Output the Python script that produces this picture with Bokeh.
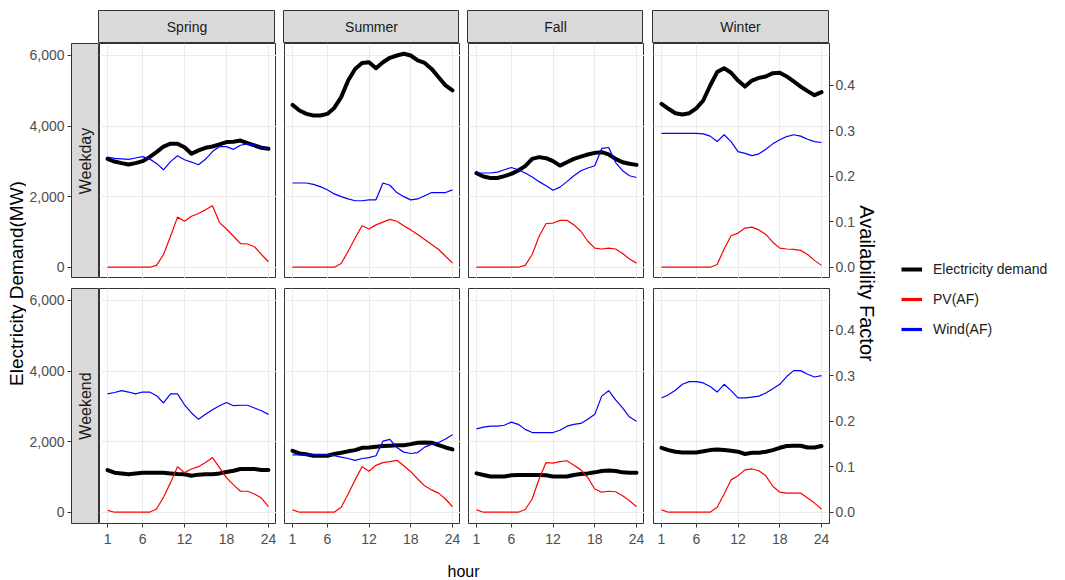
import math
from bokeh.plotting import figure
from bokeh.layouts import row, column
from bokeh.models import (Range1d, LinearAxis, FixedTicker, NumeralTickFormatter,
                          PrintfTickFormatter, Grid, Legend, LegendItem, Spacer)
from bokeh.core.properties import value
from bokeh.embed import file_html
from bokeh.resources import INLINE

# ---------------- data ----------------
hours = list(range(1, 25))
seasons = ["Spring", "Summer", "Fall", "Winter"]
day_types = ["Weekday", "Weekend"]
series_names = ["Electricity demand", "PV(AF)", "Wind(AF)"]
hour_ticks = [1, 6, 12, 18, 24]
mw_ticks = [0, 2000, 4000, 6000]
af_ticks = [0.0, 0.1, 0.2, 0.3, 0.4]
y_title = "Electricity Demand(MW)"
y2_title = "Availability Factor"
x_title = "hour"

# Weekday
demand_wd_spring = [3070, 2995, 2950, 2910, 2950, 3005, 3120, 3260, 3420, 3500, 3500, 3400,
                    3215, 3310, 3385, 3420, 3480, 3545, 3555, 3590, 3515, 3450, 3385, 3355]
pv_wd_spring = [0, 0, 0, 0, 0, 0, 0, 0.004, 0.028, 0.068, 0.110, 0.101,
                0.112, 0.118, 0.126, 0.135, 0.098, 0.084, 0.068, 0.052, 0.051, 0.045, 0.028, 0.012]
wind_wd_spring = [0.242, 0.239, 0.238, 0.237, 0.240, 0.243, 0.238, 0.228, 0.214, 0.232, 0.245, 0.236,
                  0.231, 0.225, 0.237, 0.254, 0.265, 0.265, 0.259, 0.268, 0.271, 0.269, 0.263, 0.259]

demand_wd_summer = [4600, 4440, 4345, 4300, 4300, 4345, 4515, 4820, 5290, 5620, 5790, 5810,
                    5640, 5810, 5935, 6000, 6050, 6000, 5860, 5790, 5620, 5385, 5150, 5010]
pv_wd_summer = [0, 0, 0, 0, 0, 0, 0, 0.008, 0.035, 0.064, 0.091, 0.084,
                0.093, 0.099, 0.105, 0.101, 0.091, 0.082, 0.072, 0.061, 0.050, 0.039, 0.024, 0.009]
wind_wd_summer = [0.185, 0.185, 0.185, 0.182, 0.177, 0.170, 0.161, 0.155, 0.150, 0.146, 0.146, 0.148,
                  0.148, 0.185, 0.180, 0.164, 0.155, 0.148, 0.150, 0.157, 0.164, 0.164, 0.164, 0.170]

demand_wd_fall = [2665, 2570, 2530, 2530, 2580, 2645, 2740, 2865, 3070, 3120, 3090, 3005,
                  2880, 2975, 3070, 3135, 3195, 3240, 3260, 3195, 3070, 2975, 2930, 2900]
pv_wd_fall = [0, 0, 0, 0, 0, 0, 0, 0.004, 0.028, 0.068, 0.096, 0.097,
              0.103, 0.103, 0.093, 0.079, 0.057, 0.042, 0.040, 0.042, 0.040, 0.030, 0.018, 0.009]
wind_wd_fall = [0.207, 0.207, 0.207, 0.209, 0.214, 0.219, 0.214, 0.207, 0.198, 0.188, 0.179, 0.169,
                0.176, 0.188, 0.201, 0.212, 0.218, 0.223, 0.261, 0.263, 0.230, 0.212, 0.201, 0.197]

demand_wd_winter = [4630, 4490, 4365, 4330, 4365, 4500, 4725, 5150, 5530, 5640, 5510, 5290,
                    5120, 5290, 5365, 5405, 5500, 5510, 5405, 5265, 5120, 4990, 4875, 4960]
pv_wd_winter = [0, 0, 0, 0, 0, 0, 0, 0, 0.006, 0.040, 0.069, 0.075,
                0.086, 0.088, 0.082, 0.072, 0.055, 0.042, 0.040, 0.039, 0.037, 0.028, 0.015, 0.004]
wind_wd_winter = [0.294, 0.294, 0.294, 0.294, 0.294, 0.294, 0.293, 0.288, 0.276, 0.291, 0.276, 0.254,
                  0.250, 0.245, 0.249, 0.259, 0.271, 0.280, 0.287, 0.291, 0.288, 0.281, 0.276, 0.274]

# Weekend
demand_we_spring = [1195, 1120, 1100, 1075, 1100, 1120, 1120, 1120, 1120, 1100, 1080, 1075,
                    1035, 1065, 1075, 1075, 1100, 1140, 1175, 1225, 1225, 1225, 1195, 1195]
pv_we_spring = [0.004, 0, 0, 0, 0, 0, 0, 0.007, 0.033, 0.065, 0.100, 0.087,
                0.095, 0.100, 0.109, 0.120, 0.098, 0.076, 0.060, 0.046, 0.046, 0.040, 0.031, 0.012]
wind_we_spring = [0.260, 0.263, 0.267, 0.264, 0.260, 0.264, 0.264, 0.256, 0.240, 0.260, 0.260, 0.236,
                  0.218, 0.204, 0.215, 0.225, 0.234, 0.241, 0.234, 0.235, 0.235, 0.229, 0.223, 0.215]

demand_we_summer = [1740, 1665, 1640, 1600, 1600, 1600, 1650, 1685, 1725, 1760, 1825, 1835,
                    1855, 1875, 1885, 1895, 1900, 1930, 1970, 1975, 1970, 1900, 1835, 1780]
pv_we_summer = [0.005, 0, 0, 0, 0, 0, 0, 0.011, 0.040, 0.071, 0.100, 0.090,
                0.103, 0.109, 0.111, 0.114, 0.102, 0.089, 0.073, 0.058, 0.049, 0.042, 0.029, 0.012]
wind_we_summer = [0.126, 0.126, 0.126, 0.126, 0.126, 0.126, 0.124, 0.121, 0.118, 0.114, 0.118, 0.120,
                  0.124, 0.156, 0.160, 0.142, 0.132, 0.129, 0.131, 0.143, 0.149, 0.153, 0.161, 0.170]

demand_we_fall = [1100, 1055, 1010, 1010, 1010, 1045, 1055, 1055, 1055, 1055, 1045, 1010,
                  1010, 1010, 1055, 1085, 1100, 1130, 1170, 1180, 1170, 1130, 1120, 1120]
pv_we_fall = [0.005, 0, 0, 0, 0, 0, 0, 0.006, 0.029, 0.073, 0.109, 0.108,
              0.111, 0.113, 0.103, 0.093, 0.076, 0.051, 0.044, 0.046, 0.045, 0.036, 0.025, 0.012]
wind_we_fall = [0.183, 0.187, 0.189, 0.189, 0.191, 0.198, 0.193, 0.182, 0.175, 0.175, 0.175, 0.175,
                0.180, 0.189, 0.193, 0.195, 0.204, 0.215, 0.255, 0.267, 0.247, 0.229, 0.209, 0.200]

demand_we_winter = [1825, 1760, 1715, 1695, 1695, 1695, 1725, 1760, 1780, 1760, 1740, 1715,
                    1650, 1685, 1685, 1715, 1760, 1825, 1875, 1885, 1885, 1835, 1835, 1875]
pv_we_winter = [0.005, 0, 0, 0, 0, 0, 0, 0, 0.011, 0.040, 0.071, 0.080,
                0.093, 0.095, 0.091, 0.080, 0.057, 0.044, 0.042, 0.042, 0.042, 0.031, 0.020, 0.007]
wind_we_winter = [0.251, 0.258, 0.268, 0.281, 0.287, 0.287, 0.284, 0.276, 0.264, 0.281, 0.267, 0.251,
                  0.251, 0.253, 0.255, 0.262, 0.271, 0.281, 0.298, 0.311, 0.311, 0.303, 0.297, 0.300]

panel_data = {
    ("Weekday", "Spring"): (demand_wd_spring, pv_wd_spring, wind_wd_spring),
    ("Weekday", "Summer"): (demand_wd_summer, pv_wd_summer, wind_wd_summer),
    ("Weekday", "Fall"): (demand_wd_fall, pv_wd_fall, wind_wd_fall),
    ("Weekday", "Winter"): (demand_wd_winter, pv_wd_winter, wind_wd_winter),
    ("Weekend", "Spring"): (demand_we_spring, pv_we_spring, wind_we_spring),
    ("Weekend", "Summer"): (demand_we_summer, pv_we_summer, wind_we_summer),
    ("Weekend", "Fall"): (demand_we_fall, pv_we_fall, wind_we_fall),
    ("Weekend", "Winter"): (demand_we_winter, pv_we_winter, wind_we_winter),
}

# ---------------- style / layout ----------------
FONT = "Liberation Sans"
SCALE = 12900            # MW per unit availability factor (secondary axis)
Y_LO, Y_HI = -320, 6340
X_LO, X_HI = -0.15, 25.15
BORDER = "#333333"
GRIDC = "#EBEBEB"
STRIPC = "#D9D9D9"
TICKLAB = "#4D4D4D"
series_colors = ["black", "red", "blue"]
series_widths = [4, 1.2, 1.2]
legend_widths = [4, 3.2, 3.2]

PANEL_H = 235
col_frame_w = [177, 176, 176, 176]
col_left = [0, 8, 8, 9]
col_right = [0, 0, 0, 26]
AXIS_W = 44
STRIP_W = 28
LEFT_W = AXIS_W + STRIP_W
STRIP_H = 33
TOP_PAD = 10
GAP = 10
XAX_H = 27
HOUR_H = 29
TITLE_W = 26


def make_fig(fw, fh, bl, br, bt, bb, xr, yr, x_axis=None, y_axis=None):
    p = figure(frame_width=fw, frame_height=fh,
               min_border_left=bl, min_border_right=br,
               min_border_top=bt, min_border_bottom=bb,
               x_range=xr, y_range=yr,
               x_axis_location=x_axis, y_axis_location=y_axis,
               toolbar_location=None, output_backend="svg")
    for g in p.grid:
        g.visible = False
    p.outline_line_color = None
    p.background_fill_color = "white"
    p.border_fill_color = "white"
    return p


def style_axis(ax, standoff=3):
    ax.axis_line_color = None
    ax.major_tick_line_color = BORDER
    ax.major_tick_out = 4
    ax.major_tick_in = 0
    ax.minor_tick_line_color = None
    ax.major_label_text_font = FONT
    ax.major_label_text_font_size = "14px"
    ax.major_label_text_color = TICKLAB
    ax.major_label_standoff = standoff


def add_text(p, x, y, txt, size, color="#1A1A1A", angle=0.0):
    p.text(x=[x], y=[y], text=[txt], angle=angle,
           text_font=value(FONT), text_font_size=size, text_color=color,
           text_align="center", text_baseline="middle")


# strips row
strip_row = [Spacer(width=LEFT_W, height=STRIP_H + TOP_PAD)]
for ci, s in enumerate(seasons):
    sp = make_fig(col_frame_w[ci], STRIP_H, col_left[ci], col_right[ci], TOP_PAD, 0,
                  Range1d(0, 1), Range1d(0, 1))
    sp.background_fill_color = STRIPC
    sp.outline_line_color = BORDER
    add_text(sp, 0.5, 0.5, s, "14px")
    strip_row.append(sp)

panel_rows = []
for ri, d in enumerate(day_types):
    bottom = ri == 1
    bt = GAP if bottom else 0
    bb = XAX_H if bottom else 0
    # row strip carrying the left axis
    rs = make_fig(STRIP_W, PANEL_H, AXIS_W, 0, bt, bb, Range1d(0, 1), Range1d(Y_LO, Y_HI),
                  y_axis="left")
    rs.background_fill_color = STRIPC
    rs.outline_line_color = BORDER
    rs.yaxis.ticker = FixedTicker(ticks=mw_ticks)
    rs.yaxis.formatter = NumeralTickFormatter(format="0,0")
    style_axis(rs.yaxis[0], standoff=3)
    add_text(rs, 0.5, (Y_LO + Y_HI) / 2, d, "16px", angle=math.pi / 2)
    items = [rs]
    for ci, s in enumerate(seasons):
        p = make_fig(col_frame_w[ci], PANEL_H, col_left[ci], col_right[ci], bt, bb,
                     Range1d(X_LO, X_HI), Range1d(Y_LO, Y_HI),
                     x_axis="below" if bottom else None)
        p.outline_line_color = BORDER
        p.extra_y_ranges = {"af": Range1d(Y_LO / SCALE, Y_HI / SCALE)}
        p.add_layout(Grid(dimension=0, ticker=FixedTicker(ticks=hour_ticks),
                          grid_line_color=GRIDC, grid_line_width=1))
        p.add_layout(Grid(dimension=1, ticker=FixedTicker(ticks=mw_ticks),
                          grid_line_color=GRIDC, grid_line_width=1))
        if bottom:
            p.xaxis.ticker = FixedTicker(ticks=hour_ticks)
            style_axis(p.xaxis[0], standoff=6)
        if s == "Winter":
            ax2 = LinearAxis(y_range_name="af", ticker=FixedTicker(ticks=af_ticks),
                             formatter=PrintfTickFormatter(format="%.1f"))
            style_axis(ax2, standoff=2)
            p.add_layout(ax2, "right")
        demand, pv, wind = panel_data[(d, s)]
        p.line(hours, demand, line_color=series_colors[0], line_width=series_widths[0],
               line_join="round", line_cap="round")
        p.line(hours, pv, y_range_name="af", line_color=series_colors[1],
               line_width=series_widths[1])
        p.line(hours, wind, y_range_name="af", line_color=series_colors[2],
               line_width=series_widths[2])
        items.append(p)
    panel_rows.append(row(*items))

# x title row
hour_w = sum(col_frame_w) + sum(col_left)
hf = make_fig(hour_w, HOUR_H, 0, col_right[3], 0, 0, Range1d(0, 1), Range1d(0, 1))
add_text(hf, 0.5, 0.29, x_title, "16px", color="black")
hour_row = row(Spacer(width=LEFT_W, height=HOUR_H), hf)

main = column(row(*strip_row), panel_rows[0], panel_rows[1], hour_row)

# titles spanning both rows
TOP_H = TOP_PAD + STRIP_H
FR_H = PANEL_H + GAP + PANEL_H
BOT_H = XAX_H + HOUR_H

yt = make_fig(TITLE_W, FR_H, 0, 0, TOP_H, BOT_H, Range1d(0, 1), Range1d(0, 1))
add_text(yt, 0.615, 0.5, y_title, "19px", color="black", angle=math.pi / 2)

rt = make_fig(25, FR_H, 0, 0, TOP_H, BOT_H, Range1d(0, 1), Range1d(0, 1))
add_text(rt, 0.36, 0.5, y2_title, "20px", color="black", angle=-math.pi / 2)

# legend (its line renderers lie outside the legend panel's visible ranges)
lf = make_fig(185, FR_H, 0, 0, TOP_H, BOT_H, Range1d(-3, -2), Range1d(-3, -2))
leg_series = panel_data[("Weekday", "Spring")]
leg_items = []
for name, c, w, ys in zip(series_names, series_colors, legend_widths, leg_series):
    r = lf.line(x=hours, y=ys, line_color=c, line_width=w)
    leg_items.append(LegendItem(label=name, renderers=[r]))
legend = Legend(items=leg_items, location=(19, 184), orientation="vertical",
                glyph_width=21, glyph_height=20, label_height=20, spacing=10,
                label_standoff=11, padding=0, margin=0,
                border_line_color=None, background_fill_alpha=0,
                label_text_font=FONT, label_text_font_size="14px",
                label_text_color="#1A1A1A")
lf.add_layout(legend)

layout = row(yt, main, rt, lf)

open("out.html", "w").write(file_html(layout, INLINE))
